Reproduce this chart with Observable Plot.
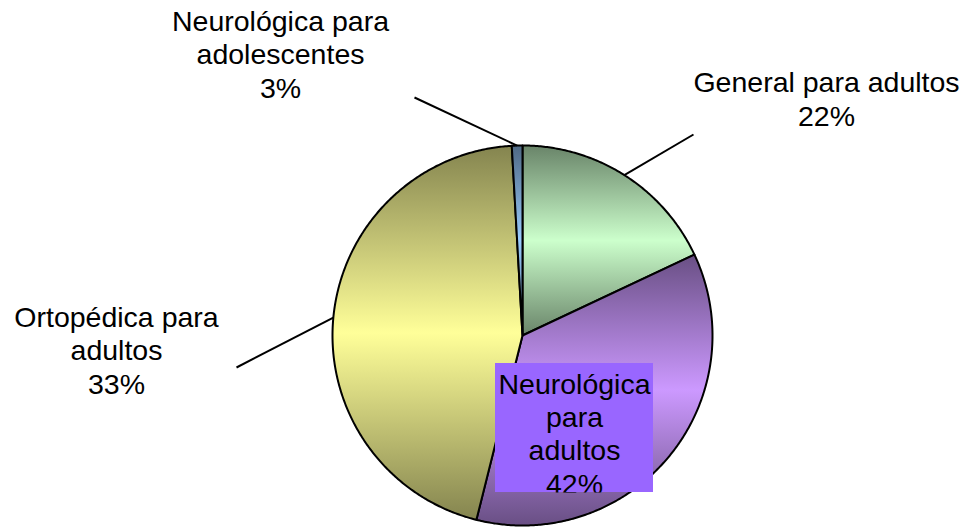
<!DOCTYPE html>
<html><head><meta charset="utf-8">
<script src="https://cdn.jsdelivr.net/npm/d3@7"></script>
<script src="https://cdn.jsdelivr.net/npm/@observablehq/plot@0.6"></script>
<style>html,body{margin:0;padding:0;background:#fff;}#chart svg{display:block;}</style>
</head><body><div id="chart"></div>
<script>
// ---- data ----
const categories = ["General para adultos", "Neurológica para adultos", "Ortopédica para adultos", "Neurológica para adolescentes"];
const sliceShares = [18.0, 35.9, 45.2, 0.9];            // drawn slice sizes
const labelPercents = ["22%", "42%", "33%", "3%"];       // percentages printed in the labels
const labelLines = ["General para adultos", "Neurológica\npara\nadultos", "Ortopédica para\nadultos", "Neurológica para\nadolescentes"];
const baseColors = ["#ccffcc", "#cc99ff", "#ffff99", "#99ccff"];

// ---- layout ----
const W = 976, H = 527, R = 190, CX = 522, CY = 335;
const ux = px => (px - CX) / R, uy = py => (CY - py) / R;
const labelPos = [ [826, 125], [574, 493], [116, 393], [280, 97] ];   // last baseline, px
const leaderEnd = [ [693, 134], null, [236, 367], [414, 97] ];
const boxPx = {x1: 495, x2: 653, y1: 363, y2: 492};

const total = d3.sum(sliceShares);
let acc = 0;
const slices = categories.map((c, i) => {
  const a0 = acc / total * 2 * Math.PI; acc += sliceShares[i];
  const a1 = acc / total * 2 * Math.PI;
  return {i, c, a0, a1, mid: (a0 + a1) / 2};
});
const polys = slices.map(s => {
  const arr = [{x: 0, y: 0}];
  const n = Math.max(4, Math.ceil((s.a1 - s.a0) / (Math.PI / 360)));
  for (let k = 0; k <= n; k++) {
    const a = s.a0 + (s.a1 - s.a0) * k / n;
    arr.push({x: Math.sin(a), y: Math.cos(a)});
  }
  return arr;
});
const labels = slices.map((s, i) => ({
  x: ux(labelPos[i][0]), y: uy(labelPos[i][1]),
  text: labelLines[i] + "\n" + labelPercents[i], inBox: i === 1
}));
const leaders = slices.filter((s, i) => leaderEnd[i]).map(s => ({
  x1: Math.sin(s.mid), y1: Math.cos(s.mid),
  x2: ux(leaderEnd[s.i][0]), y2: uy(leaderEnd[s.i][1])
}));
const box = [{x1: ux(boxPx.x1), x2: ux(boxPx.x2), y1: uy(boxPx.y1), y2: uy(boxPx.y2)}];

const font = "Arial, 'Liberation Sans', sans-serif";
const textOpts = {x: "x", y: "y", text: "text", lineAnchor: "bottom", lineHeight: 1.16, fontSize: 28.5, fontFamily: font, fill: "#000"};

const plot = Plot.plot({
  width: W, height: H, margin: 0,
  style: {background: "#fff", overflow: "visible"},
  x: {domain: [-1, 1], range: [CX - R, CX + R], axis: null},
  y: {domain: [-1, 1], range: [CY + R, CY - R], axis: null},
  marks: [
    ...polys.map((p, i) => Plot.line(p, {x: "x", y: "y", curve: "linear-closed", fill: `url(#grad${i})`, stroke: "#000", strokeWidth: 2, strokeLinejoin: "round"})),
    Plot.link(leaders, {x1: "x1", y1: "y1", x2: "x2", y2: "y2", stroke: "#000", strokeWidth: 2}),
    Plot.text(labels.filter(d => !d.inBox), textOpts),
    Plot.rect(box, {x1: "x1", x2: "x2", y1: "y1", y2: "y2", fill: "#9966ff"}),
    Plot.text(labels.filter(d => d.inBox), textOpts)
  ]
});

// gradients + clip
const ns = "http://www.w3.org/2000/svg";
const defs = document.createElementNS(ns, "defs");
baseColors.forEach((c, i) => {
  const g = document.createElementNS(ns, "linearGradient");
  g.setAttribute("id", `grad${i}`);
  g.setAttribute("x1", "0"); g.setAttribute("y1", "0"); g.setAttribute("x2", "0"); g.setAttribute("y2", "1");
  const dark = d3.color(c).darker(1.85).formatHex();
  [[0, dark], [0.5, c], [1, dark]].forEach(([o, col]) => {
    const st = document.createElementNS(ns, "stop");
    st.setAttribute("offset", o); st.setAttribute("stop-color", col);
    g.appendChild(st);
  });
  defs.appendChild(g);
});
const cp = document.createElementNS(ns, "clipPath");
cp.setAttribute("id", "boxclip");
const cr = document.createElementNS(ns, "rect");
const sx = plot.scale("x"), sy = plot.scale("y");
const bx1 = sx.apply(box[0].x1), bx2 = sx.apply(box[0].x2), by1 = sy.apply(box[0].y1), by2 = sy.apply(box[0].y2);
cr.setAttribute("x", Math.min(bx1, bx2)); cr.setAttribute("y", Math.min(by1, by2));
cr.setAttribute("width", Math.abs(bx2 - bx1)); cr.setAttribute("height", Math.abs(by2 - by1));
cp.appendChild(cr); defs.appendChild(cp);
plot.insertBefore(defs, plot.firstChild);
const texts = plot.querySelectorAll('g[aria-label="text"]');
texts[texts.length - 1].setAttribute("clip-path", "url(#boxclip)");

document.getElementById("chart").appendChild(plot);
</script>
</body></html>
